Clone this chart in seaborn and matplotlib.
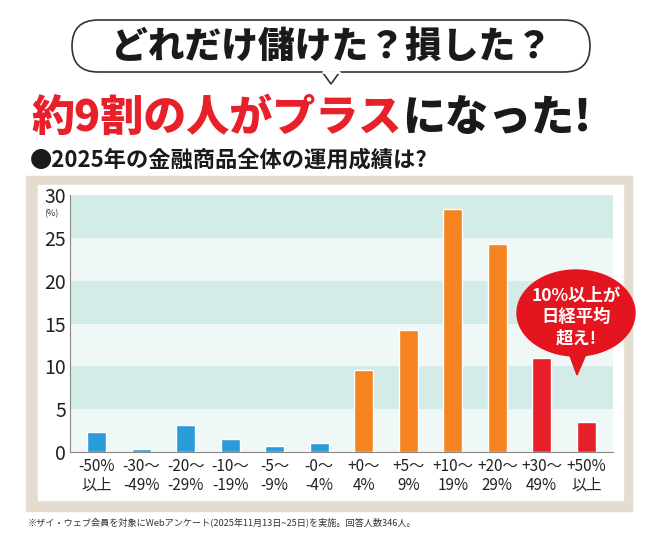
import numpy as np
import pandas as pd
import seaborn as sns
import matplotlib.pyplot as plt
from matplotlib.patches import FancyBboxPatch, Rectangle, Ellipse, Polygon

# data (% of respondents)
categories = ["-50%\n以上", "-30〜\n-49%", "-20〜\n-29%", "-10〜\n-19%", "-5〜\n-9%", "-0〜\n-4%",
              "+0〜\n4%", "+5〜\n9%", "+10〜\n19%", "+20〜\n29%", "+30〜\n49%", "+50%\n以上"]
values = [2.3, 0.3, 3.2, 1.5, 0.7, 1.1, 9.6, 14.2, 28.4, 24.3, 11.0, 3.5]
groups = ["loss"] * 6 + ["gain"] * 4 + ["big"] * 2
yticks = [0, 5, 10, 15, 20, 25, 30]

palette = {"loss": "#2b9bd9", "gain": "#f5831f", "big": "#e8202a"}

sns.set_theme(style="white")
plt.rcParams['font.family'] = ['Noto Sans CJK JP', 'DejaVu Sans']

W, H = 669, 542
fig = plt.figure(figsize=(W / 100, H / 100), dpi=100)

# background layer in pixel coords
bg = fig.add_axes([0, 0, 1, 1], zorder=0)
bg.set_xlim(0, W)
bg.set_ylim(H, 0)
bg.axis("off")
bg.add_patch(Rectangle((26, 176), 606, 335, color="#e3dccf"))
bg.add_patch(Rectangle((38, 185), 585, 315, color="white"))

# title bubble
bg.add_patch(FancyBboxPatch((72, 20), 518, 52, boxstyle="round,pad=0,rounding_size=26",
                            fc="white", ec="#333333", lw=1.2))
bg.add_patch(Polygon([(322, 71.5), (331, 84), (340, 71.5)], closed=False, fc="white", ec="#333333", lw=1.2))
bg.plot([323, 339], [72, 72], color="white", lw=2)
bg.text(331, 47, "どれだけ儲けた？損した？", ha="center", va="center", fontsize=26.5,
        fontweight="heavy", color="#1a1a1a")

t1 = bg.text(32, 118, "約9割の人がプラス", ha="left", va="center", fontsize=31,
             fontweight="heavy", color="#e8202a")
fig.canvas.draw()
bb = t1.get_window_extent()
x_end = bb.x1
bg.text(x_end, 118, "になった!", ha="left", va="center", fontsize=31,
        fontweight="heavy", color="#1a1a1a")
bg.text(30, 160, "●2025年の金融商品全体の運用成績は?", ha="left", va="center", fontsize=16,
        fontweight="bold", color="#1a1a1a")
bg.text(28, 522, "※ザイ・ウェブ会員を対象にWebアンケート(2025年11月13日~25日)を実施。回答人数346人。",
        ha="left", va="center", fontsize=6.6, color="#333333")

# chart
ax = fig.add_axes([70 / W, 1 - 452 / H, 543 / W, 257 / H], zorder=1)
ax.set_facecolor("none")
df = pd.DataFrame({"cat": categories, "val": values, "grp": groups})
for i, (lo, hi) in enumerate(zip(yticks[:-1], yticks[1:])):
    ax.axhspan(lo, hi, color="#d4ece8" if i % 2 else "#eff8f6", zorder=0, lw=0)
sns.barplot(data=df, x="cat", y="val", hue="grp", palette=palette, dodge=False,
            width=0.42, legend=False, ax=ax, zorder=2, saturation=1)
ax.set_ylim(0, 30)
ax.set_xlim(-0.6, 11.6)
ax.set_yticks(yticks)
ax.set_yticklabels([str(v) for v in yticks], fontsize=14, color="#222222")
ax.tick_params(axis="x", labelsize=11, labelcolor="#222222", length=0, pad=4)
ax.tick_params(axis="y", length=0, pad=3)
for lab in ax.get_xticklabels():
    lab.set_linespacing(1.2)
ax.set_xlabel("")
ax.set_ylabel("")
for s in ["top", "right"]:
    ax.spines[s].set_visible(False)
for s in ["left", "bottom"]:
    ax.spines[s].set_color("#888888")
    ax.spines[s].set_linewidth(0.8)
ax.text(-0.022, 27.8, "(%)", transform=ax.get_yaxis_transform(), ha="right", va="center",
        fontsize=6.5, color="#333333")

# callout bubble
ov = fig.add_axes([0, 0, 1, 1], zorder=3)
ov.set_xlim(0, W)
ov.set_ylim(H, 0)
ov.axis("off")
ov.add_patch(Polygon([(566, 345), (577, 375), (590, 345)], color="#e5151f"))
ov.add_patch(Ellipse((576, 313), 118, 86, color="#e5151f"))
ov.text(576, 317, "10%以上が\n日経平均\n超え!", ha="center", va="center", fontsize=12.5,
        fontweight="bold", color="white", linespacing=1.25)

fig.savefig("out.png", dpi=100)
